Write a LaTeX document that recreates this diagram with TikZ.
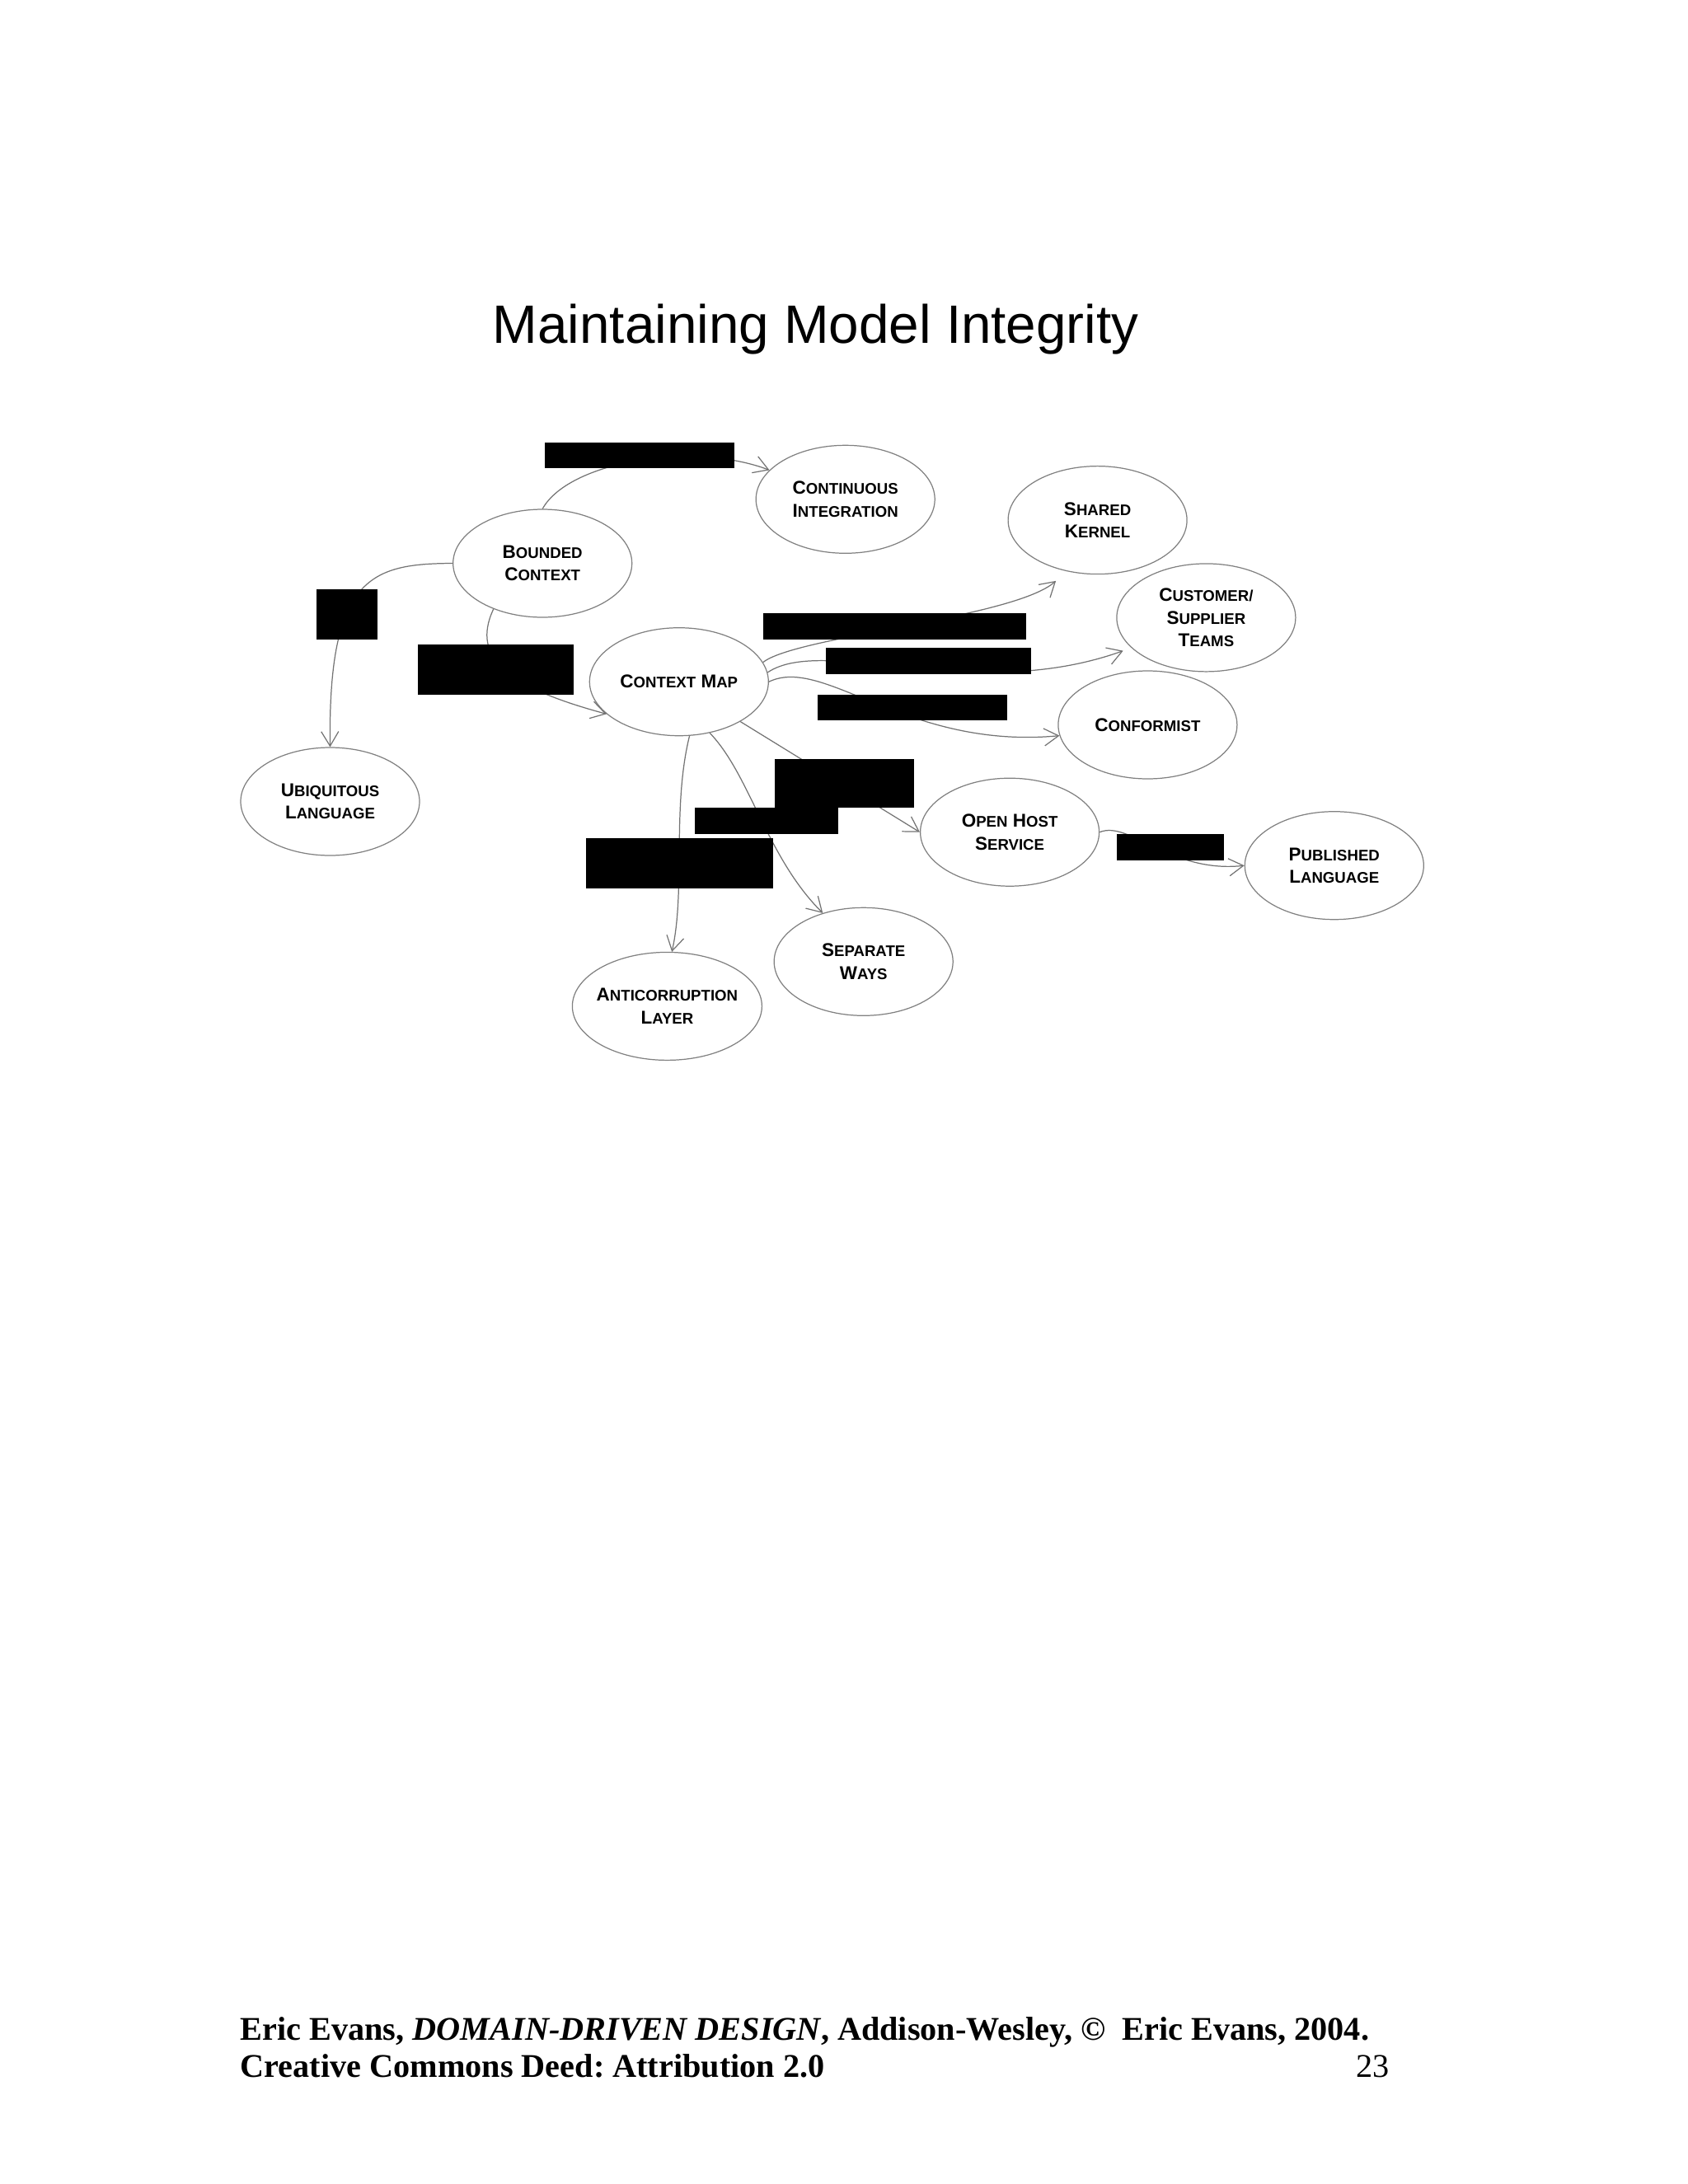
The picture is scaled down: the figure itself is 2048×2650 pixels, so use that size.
\documentclass[tikz,border=0pt]{standalone}
\usepackage{fontspec}
\setmainfont{Liberation Serif}
\newfontfamily\arialfont{Liberation Sans}
\usetikzlibrary{shapes.geometric,arrows.meta}
\newcommand\SC[2]{#1{\fontsize{5.3pt}{7.8pt}\selectfont #2}}
\tikzset{
  ell/.style={ellipse, draw=black!50, line width=0.35pt, minimum width=21.7mm, minimum height=13.1mm, inner sep=0pt, align=center,
    font=\arialfont\bfseries\fontsize{6.4pt}{7.8pt}\selectfont},
  link/.style={draw=black!55, line width=0.35pt, -{Straight Barb[length=5pt,width=6pt]}},
  redact/.style={fill=black},
  foot/.style={anchor=base west, inner sep=0pt, font=\frenchspacing\bfseries\fontsize{11.45pt}{13pt}\selectfont},
}
\begin{document}
\begin{tikzpicture}[x=0.1mm,y=-0.1mm]
\useasboundingbox (0,0) rectangle (2048,2650);
% title
\node[anchor=base west, inner sep=0pt, font=\arialfont\fontsize{18.66pt}{22pt}\selectfont] (title) at (597,416) {Maintaining Model Integrity};
% nodes
\node[ell] (CI)  at (1025.7,605.8) {\SC{C}{ONTINUOUS}\\\SC{I}{NTEGRATION}};
\node[ell] (SK)  at (1331.6,631.1) {\SC{S}{HARED}\\\SC{K}{ERNEL}};
\node[ell] (BC)  at (658.2,683.5)  {\SC{B}{OUNDED}\\\SC{C}{ONTEXT}};
\node[ell] (CST) at (1463.4,749.4) {\SC{C}{USTOMER/}\\\SC{S}{UPPLIER}\\\SC{T}{EAMS}};
\node[ell] (CM)  at (823.8,827.2)  {\SC{C}{ONTEXT} \SC{M}{AP}};
\node[ell] (CF)  at (1392.4,879.5) {\SC{C}{ONFORMIST}};
\node[ell] (UL)  at (400.5,972.5)  {\SC{U}{BIQUITOUS}\\\SC{L}{ANGUAGE}};
\node[ell] (OHS) at (1225.1,1009.7) {\SC{O}{PEN} \SC{H}{OST}\\\SC{S}{ERVICE}};
\node[ell] (PL)  at (1618.8,1050.2) {\SC{P}{UBLISHED}\\\SC{L}{ANGUAGE}};
\node[ell] (SW)  at (1047.7,1166.8) {\SC{S}{EPARATE}\\\SC{W}{AYS}};
\node[ell, minimum width=23mm, inner xsep=-2.5pt] (ACL) at (809.4,1220.9) {\SC{A}{NTICORRUPTION}\\\SC{L}{AYER}};
% connectors
\draw[link] (BC.north) .. controls (690,560) and (840,535) .. (CI.159);
\draw[link] (BC.west) .. controls (450,684) and (398,700) .. (UL.north);
\draw[link] (BC.223) .. controls (570,800) and (620,835) .. (CM.204);
\draw[link, shorten >=5pt] (CM.13) .. controls (965,772) and (1230,750) .. (SK.239);
\draw[link, shorten >=3pt] (CM.6) .. controls (1000,770) and (1180,855) .. (CST.202);
\draw[link] (CM.east) .. controls (1000,795) and (1100,910) .. (CF.187);
\draw[link] (CM.-33) -- (OHS.west);
\draw[link] (CM.-59) .. controls (910,940) and (930,1040) .. (SW.130);
\draw[link] (CM.-79) .. controls (815,980) and (832,1080) .. (ACL.85);
\draw[link] (OHS.east) .. controls (1370,995) and (1420,1060) .. (PL.west);
% redaction boxes
\fill[redact] (660.7,537.4) rectangle (890.5,567.8);
\fill[redact] (383.6,714.8) rectangle (457.9,775.6);
\fill[redact] (506.9,782.4) rectangle (696.2,843.2);
\fill[redact] (926,743.5) rectangle (1245.4,775.6);
\fill[redact] (1002,785.8) rectangle (1250.5,817.9);
\fill[redact] (991.9,843.2) rectangle (1221.7,873.6);
\fill[redact] (939.5,921) rectangle (1108.5,980.1);
\fill[redact] (843.2,980.1) rectangle (1017.3,1012.2);
\fill[redact] (711.4,1017.3) rectangle (937.8,1078.1);
\fill[redact] (1355.2,1012.2) rectangle (1485.3,1044.3);
% footer
\node[foot] (foot1) at (291,2475) {Eric Evans, \textit{DOMAIN-DRIVEN DESIGN}, Addison-Wesley, ©\ \ Eric Evans, 2004.};
\node[foot] (foot2) at (291,2520) {Creative Commons Deed: Attribution 2.0};
\node[anchor=base east, inner sep=0pt, font=\fontsize{11.45pt}{13pt}\selectfont] (page) at (1686,2520) {23};
\end{tikzpicture}
\end{document}
